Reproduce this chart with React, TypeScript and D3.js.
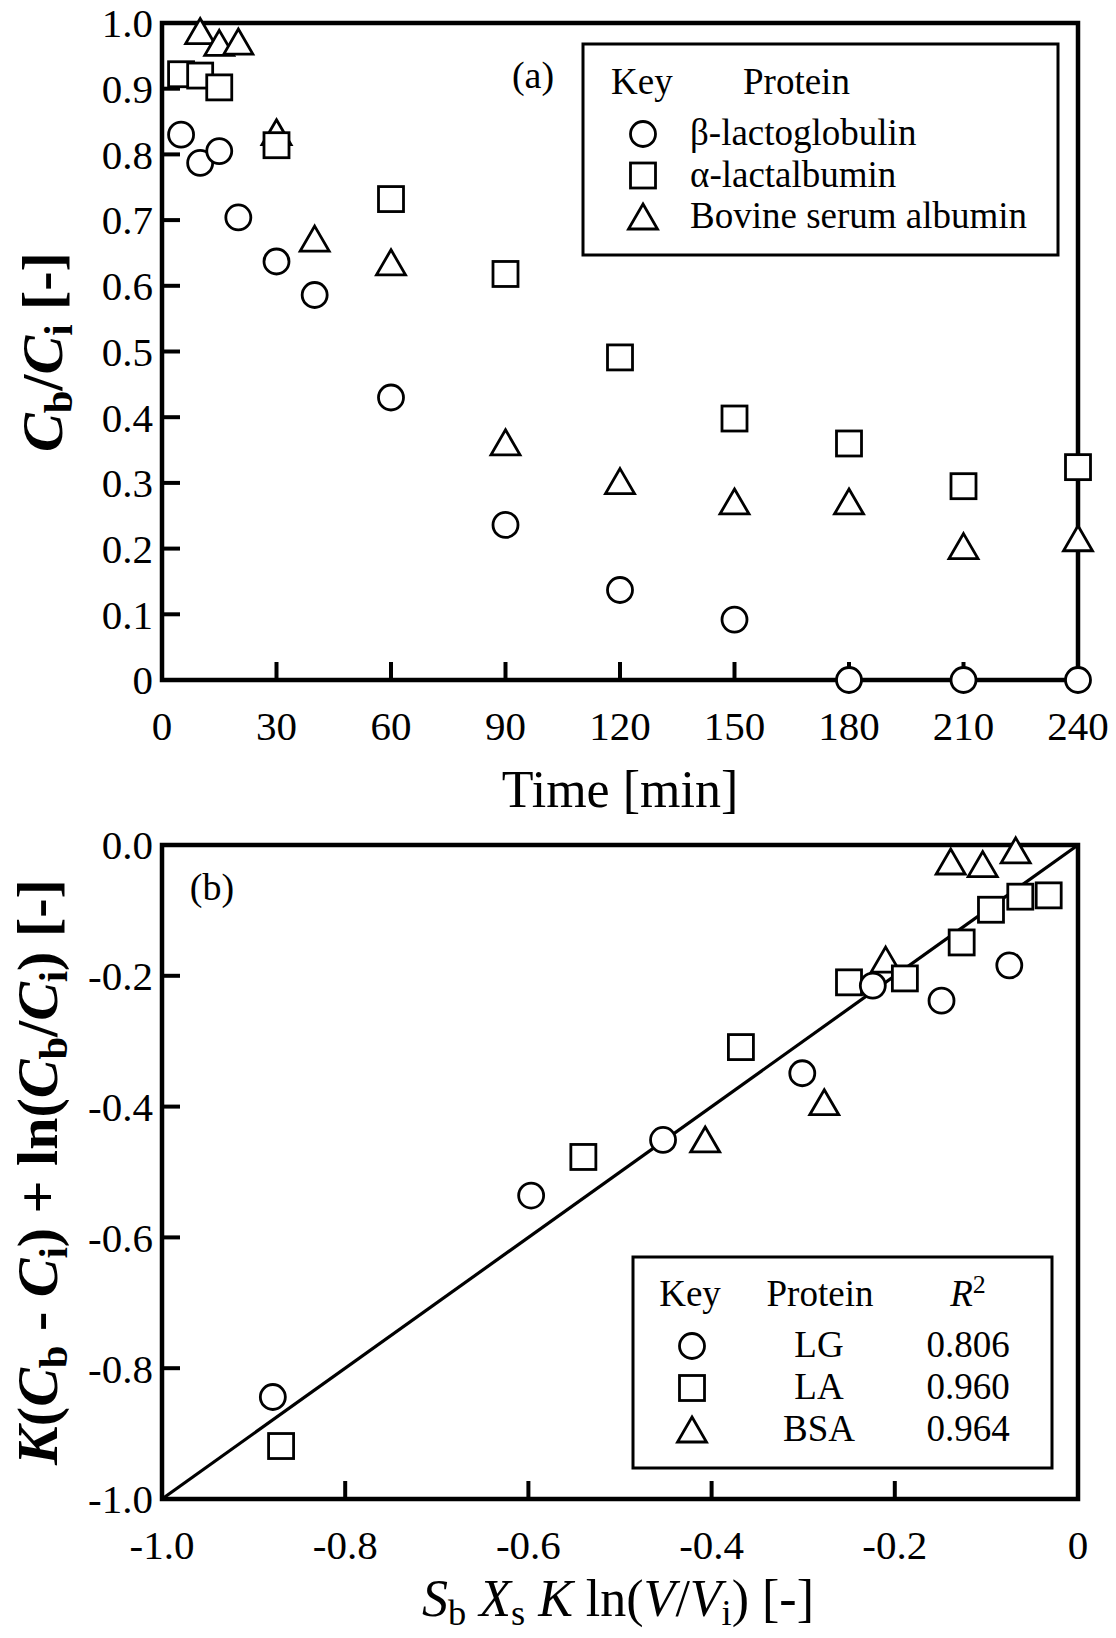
import React from 'react';
import * as d3 from 'd3';

// panel (a): bulk concentration ratio against time
const lgTime = [5, 10, 15, 20, 30, 40, 60, 90, 120, 150, 180, 210, 240];
const lgRatio = [0.83, 0.787, 0.805, 0.704, 0.637, 0.586, 0.43, 0.236, 0.137, 0.092, 0, 0, 0];
const laTime = [5, 10, 15, 30, 60, 90, 120, 150, 180, 210, 240];
const laRatio = [0.922, 0.92, 0.902, 0.814, 0.732, 0.618, 0.491, 0.398, 0.36, 0.295, 0.324];
const bsaTime = [10, 15, 20, 30, 40, 60, 90, 120, 150, 180, 210, 240];
const bsaRatio = [0.987, 0.969, 0.971, 0.833, 0.671, 0.635, 0.361, 0.302, 0.271, 0.271, 0.203, 0.215];

const timeTicks = [0, 30, 60, 90, 120, 150, 180, 210, 240];
const timeLabels = ['0', '30', '60', '90', '120', '150', '180', '210', '240'];
const ratioTicks = [0, 0.1, 0.2, 0.3, 0.4, 0.5, 0.6, 0.7, 0.8, 0.9, 1.0];
const ratioLabels = ['0', '0.1', '0.2', '0.3', '0.4', '0.5', '0.6', '0.7', '0.8', '0.9', '1.0'];

// panel (b): linearised plot
const lgX = [-0.879, -0.597, -0.453, -0.301, -0.224, -0.149, -0.075];
const lgY = [-0.844, -0.536, -0.451, -0.349, -0.215, -0.238, -0.184];
const laX = [-0.87, -0.54, -0.368, -0.25, -0.189, -0.127, -0.095, -0.063, -0.032];
const laY = [-0.919, -0.477, -0.309, -0.21, -0.204, -0.149, -0.099, -0.079, -0.077];
const bsaX = [-0.407, -0.277, -0.21, -0.139, -0.104, -0.068];
const bsaY = [-0.451, -0.394, -0.176, -0.026, -0.03, -0.009];
const fitX = [-1, 0];
const fitY = [-1, 0];

const bxTicks = [-1, -0.8, -0.6, -0.4, -0.2, 0];
const bxLabels = ['-1.0', '-0.8', '-0.6', '-0.4', '-0.2', '0'];
const byTicks = [0, -0.2, -0.4, -0.6, -0.8, -1];
const byLabels = ['0.0', '-0.2', '-0.4', '-0.6', '-0.8', '-1.0'];

const legendA = ['β-lactoglobulin', 'α-lactalbumin', 'Bovine serum albumin'];
const legendB = ['LG', 'LA', 'BSA'];
const r2Values = ['0.806', '0.960', '0.964'];
const shapes = ['circle', 'square', 'triangle'];

const FONT = '"Liberation Serif", "Times New Roman", serif';
const SW = 2.8;
const TICK_FS = 41;

type Seg = { t: string; it?: boolean; sub?: boolean; sup?: boolean };

function Rich({ segs, fontSize, ...rest }: { segs: Seg[]; fontSize: number; [k: string]: any }) {
  let cur = 0;
  return (
    <text fontSize={fontSize} style={{ whiteSpace: 'pre' }} {...rest}>
      {segs.map((s, i) => {
        const target = s.sub ? fontSize * 0.18 : s.sup ? -fontSize * 0.36 : 0;
        const dy = target - cur;
        cur = target;
        return (
          <tspan key={i} dy={dy} fontStyle={s.it ? 'italic' : 'normal'}
            fontSize={s.sub || s.sup ? fontSize * 0.7 : fontSize}>{s.t}</tspan>
        );
      })}
    </text>
  );
}

function Marker({ shape, x, y }) {
  if (shape === 'circle') {
    return <circle cx={x} cy={y} r={12.5} fill="#fff" stroke="#000" strokeWidth={SW} />;
  }
  if (shape === 'square') {
    return <rect x={x - 12.5} y={y - 12.5} width={25} height={25} fill="#fff" stroke="#000" strokeWidth={SW} />;
  }
  const p = d3.path();
  p.moveTo(x, y - 13);
  p.lineTo(x + 14.5, y + 12);
  p.lineTo(x - 14.5, y + 12);
  p.closePath();
  return <path d={p.toString()} fill="#fff" stroke="#000" strokeWidth={SW} />;
}

function Frame({ x, y, xt, yt, xl, yl }) {
  const [x0, x1] = x.range();
  const [y0, y1] = y.range();
  return (
    <g>
      {xt.map((t, i) => (
        <g key={'x' + i}>
          {i > 0 && i < xt.length - 1 && (
            <line x1={x(t)} x2={x(t)} y1={y0} y2={y0 - 18} stroke="#000" strokeWidth={4} />
          )}
          <text x={x(t)} y={y0 + 60} textAnchor="middle" fontSize={TICK_FS}>{xl[i]}</text>
        </g>
      ))}
      {yt.map((t, i) => (
        <g key={'y' + i}>
          {y(t) !== y0 && y(t) !== y1 && (
            <line x1={x0} x2={x0 + 18} y1={y(t)} y2={y(t)} stroke="#000" strokeWidth={4} />
          )}
          <text x={x0 - 9} y={y(t)} dy="0.35em" textAnchor="end" fontSize={TICK_FS}>{yl[i]}</text>
        </g>
      ))}
      <rect x={x0} y={y1} width={x1 - x0} height={y0 - y1} fill="none" stroke="#000" strokeWidth={4.5} />
    </g>
  );
}

const yTitleA: Seg[] = [
  { t: 'C', it: true }, { t: 'b', sub: true }, { t: '/' }, { t: 'C', it: true }, { t: 'i', sub: true }, { t: ' [-]' },
];
const yTitleB: Seg[] = [
  { t: 'K', it: true }, { t: '(' }, { t: 'C', it: true }, { t: 'b', sub: true }, { t: ' - ' },
  { t: 'C', it: true }, { t: 'i', sub: true }, { t: ') + ln(' }, { t: 'C', it: true }, { t: 'b', sub: true },
  { t: '/' }, { t: 'C', it: true }, { t: 'i', sub: true }, { t: ') [-]' },
];
const xTitleB: Seg[] = [
  { t: 'S', it: true }, { t: 'b', sub: true }, { t: ' ' }, { t: 'X', it: true }, { t: 's', sub: true },
  { t: ' ' }, { t: 'K', it: true }, { t: ' ln(' }, { t: 'V', it: true }, { t: '/' }, { t: 'V', it: true },
  { t: 'i', sub: true }, { t: ') [-]' },
];
const r2Head: Seg[] = [{ t: 'R', it: true }, { t: '2', sup: true }];

export default function App() {
  const xA = d3.scaleLinear().domain([0, 240]).range([162, 1078]);
  const yA = d3.scaleLinear().domain([0, 1]).range([680, 23]);
  const xB = d3.scaleLinear().domain([-1, 0]).range([162, 1078]);
  const yB = d3.scaleLinear().domain([-1, 0]).range([1499, 845]);

  const fit = d3.line<number>().x((d) => xB(d)).y((d, i) => yB(fitY[i]));

  return (
    <svg width={1116} height={1638} style={{ position: 'absolute', left: 0, top: 0, background: '#fff' }}
      fontFamily={FONT} fill="#000">
      <rect width={1116} height={1638} fill="#fff" />

      {/* panel (a) */}
      <Frame x={xA} y={yA} xt={timeTicks} yt={ratioTicks} xl={timeLabels} yl={ratioLabels} />
      {bsaTime.map((t, i) => <Marker key={'at' + i} shape="triangle" x={xA(t)} y={yA(bsaRatio[i])} />)}
      {laTime.map((t, i) => <Marker key={'as' + i} shape="square" x={xA(t)} y={yA(laRatio[i])} />)}
      {lgTime.map((t, i) => <Marker key={'ac' + i} shape="circle" x={xA(t)} y={yA(lgRatio[i])} />)}
      <text x={533} y={88} textAnchor="middle" fontSize={38}>(a)</text>

      <rect x={583} y={44} width={475} height={211} fill="#fff" stroke="#000" strokeWidth={3} />
      <text x={611} y={94} fontSize={37}>Key</text>
      <text x={743} y={94} fontSize={37}>Protein</text>
      {legendA.map((name, i) => (
        <g key={'la' + i}>
          <Marker shape={shapes[i]} x={643} y={134 + i * 41.5} />
          <text x={690} y={145 + i * 41.5} fontSize={37}>{name}</text>
        </g>
      ))}

      <text x={620} y={807} textAnchor="middle" fontSize={52}>Time [min]</text>
      <Rich segs={yTitleA} fontSize={58} fontWeight="bold" textAnchor="middle"
        transform="translate(62,352) rotate(-90)" />

      {/* panel (b) */}
      <Frame x={xB} y={yB} xt={bxTicks} yt={byTicks} xl={bxLabels} yl={byLabels} />
      <path d={fit(fitX) || ''} fill="none" stroke="#000" strokeWidth={3.2} />
      {bsaX.map((v, i) => <Marker key={'bt' + i} shape="triangle" x={xB(v)} y={yB(bsaY[i])} />)}
      {laX.map((v, i) => <Marker key={'bs' + i} shape="square" x={xB(v)} y={yB(laY[i])} />)}
      {lgX.map((v, i) => <Marker key={'bc' + i} shape="circle" x={xB(v)} y={yB(lgY[i])} />)}
      <text x={212} y={900} textAnchor="middle" fontSize={38}>(b)</text>

      <rect x={633} y={1257} width={419} height={211} fill="#fff" stroke="#000" strokeWidth={3} />
      <text x={690} y={1306} textAnchor="middle" fontSize={37}>Key</text>
      <text x={820} y={1306} textAnchor="middle" fontSize={37}>Protein</text>
      <Rich segs={r2Head} fontSize={37} x={968} y={1306} textAnchor="middle" />
      {legendB.map((name, i) => (
        <g key={'lb' + i}>
          <Marker shape={shapes[i]} x={692} y={1346 + i * 42} />
          <text x={819} y={1357 + i * 42} textAnchor="middle" fontSize={37}>{name}</text>
          <text x={968} y={1357 + i * 42} textAnchor="middle" fontSize={37}>{r2Values[i]}</text>
        </g>
      ))}

      <Rich segs={xTitleB} fontSize={52} x={618} y={1616} textAnchor="middle" />
      <Rich segs={yTitleB} fontSize={58} fontWeight="bold" textAnchor="middle"
        transform="translate(57,1172) rotate(-90)" />
    </svg>
  );
}
